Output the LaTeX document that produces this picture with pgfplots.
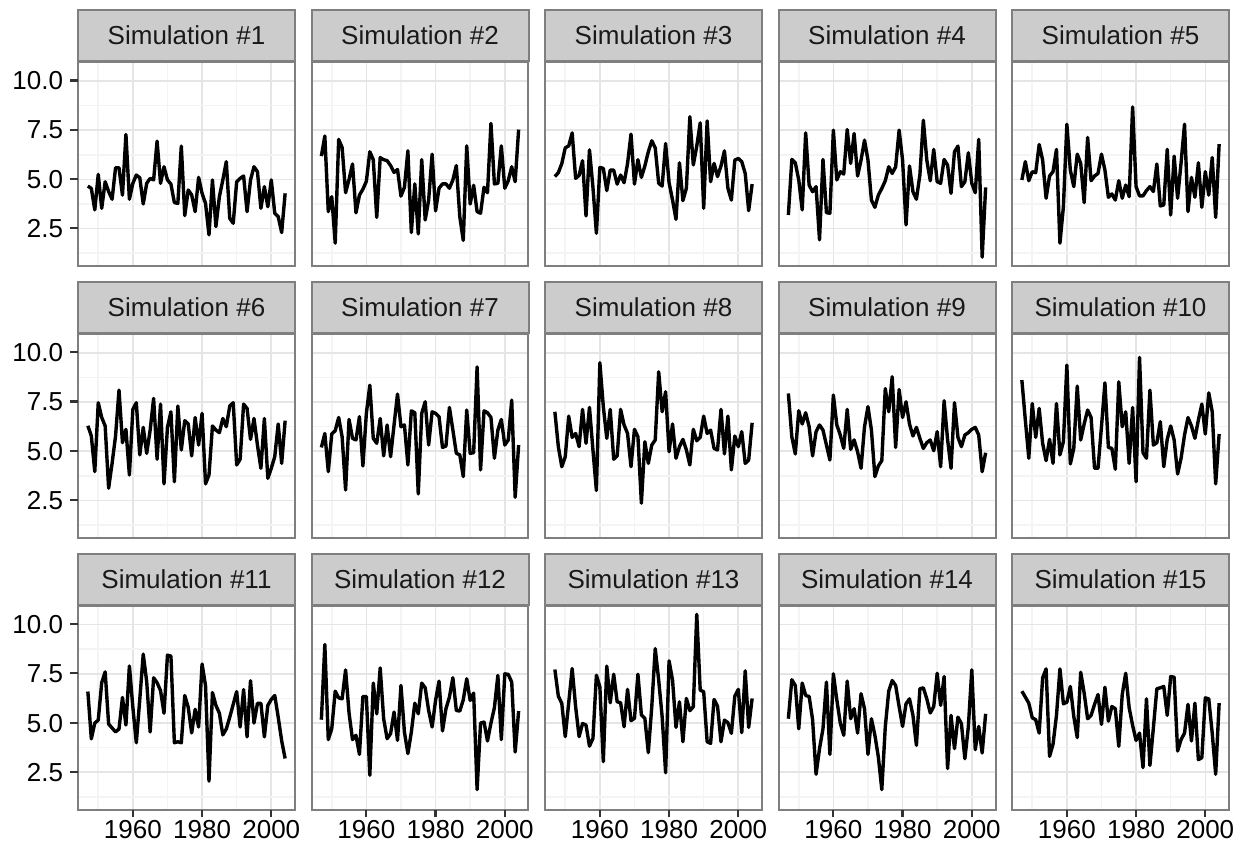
\documentclass[border=0pt]{standalone}
\usepackage{fontspec}
\setmainfont{Liberation Sans}
\usepackage{pgfplots}
\pgfplotsset{compat=1.18}
\usepackage{pgfplotstable}
\definecolor{stripfill}{HTML}{CCCCCC}
\definecolor{panelborder}{HTML}{7F7F7F}
\definecolor{majgrid}{HTML}{E5E5E5}
\definecolor{mingrid}{HTML}{F4F4F4}
\definecolor{tickcol}{HTML}{333333}
\protected\def\ylab#1{#1\hspace{3.3bp}\textcolor{tickcol}{\rule[4.1bp]{4bp}{1.1bp}}}
\protected\def\xlab#1{\vbox{\offinterlineskip\halign{\hss##\hss\cr\textcolor{tickcol}{\rule{1.1bp}{3.6bp}}\cr\noalign{\kern1.4bp}#1\cr}}}

\pgfplotstableread{
year s1 s2 s3 s4 s5 s6 s7 s8 s9 s10 s11 s12 s13 s14 s15
1947 4.66 6.18 5.14 3.19 4.97 6.29 5.19 7.0 7.93 8.61 6.6 5.17 7.72 5.22 6.62
1948 4.54 7.2 5.34 6.01 5.9 5.77 5.9 5.23 5.73 6.58 4.2 8.99 6.37 7.2 6.32
1949 3.45 3.36 5.8 5.84 4.93 3.96 3.96 4.21 4.86 4.64 5.0 4.16 6.0 6.91 6.01
1950 5.25 4.12 6.6 4.97 5.39 7.46 5.87 4.72 7.05 7.42 5.15 4.71 4.31 4.71 5.27
1951 3.53 1.76 6.7 3.45 5.34 6.71 6.04 6.78 6.38 5.7 7.05 6.62 6.03 7.03 5.17
1952 4.88 7.03 7.36 7.36 6.77 6.28 6.71 5.7 6.95 7.17 7.6 6.28 7.77 6.4 4.49
1953 4.38 6.62 5.05 4.71 5.98 3.12 5.73 5.9 6.24 5.4 4.95 6.23 5.83 6.35 7.3
1954 3.99 4.32 5.2 4.37 4.04 4.38 3.03 5.23 4.76 4.52 4.75 7.7 4.31 5.17 7.75
1955 5.59 5.0 5.95 4.63 5.17 5.77 6.61 7.12 5.99 5.6 4.55 5.51 4.98 2.4 3.31
1956 5.59 5.78 3.14 1.93 5.39 8.1 5.65 5.4 6.33 4.38 4.7 4.16 4.9 3.7 3.92
1957 4.2 3.3 6.5 6.01 6.52 5.43 5.57 7.22 6.07 7.42 6.3 4.38 3.83 4.71 5.39
1958 7.28 4.2 4.6 3.31 1.76 6.11 6.75 5.06 5.31 4.81 4.9 3.41 4.22 7.08 7.75
1959 3.99 4.5 2.26 3.28 3.61 3.79 4.25 3.0 4.55 5.48 7.9 6.35 7.43 3.41 5.98
1960 4.8 4.9 5.6 7.5 7.8 7.12 6.92 9.49 7.85 9.37 5.8 6.35 6.84 7.5 6.06
1961 5.22 6.4 5.56 4.97 5.47 7.46 8.35 7.26 6.33 4.35 4.0 2.35 3.04 6.18 6.86
1962 5.08 6.0 4.43 5.39 4.63 4.81 5.65 5.65 5.82 5.14 6.2 7.03 7.89 5.0 5.34
1963 3.75 3.07 5.47 5.27 6.28 6.21 5.4 7.12 5.14 8.3 8.5 5.47 6.03 4.38 4.26
1964 4.8 6.1 5.47 7.53 5.81 4.89 6.66 4.59 7.12 5.57 7.1 7.8 7.48 7.13 7.58
1965 5.05 6.0 4.76 5.81 3.82 6.07 4.76 4.76 5.09 6.38 4.55 5.22 6.08 5.22 6.52
1966 4.97 5.95 5.22 7.33 7.13 7.68 6.33 7.12 5.57 7.09 7.3 4.21 6.03 5.73 5.22
1967 6.94 5.7 4.83 5.17 4.93 4.59 4.72 6.33 4.97 6.71 7.05 4.46 4.81 4.49 5.39
1968 4.8 5.35 5.8 5.98 5.17 7.39 6.33 5.9 4.13 4.13 6.65 5.56 6.71 6.49 5.95
1969 5.64 5.5 7.3 6.99 5.3 3.34 7.9 4.21 6.24 4.13 5.5 4.12 5.12 5.73 6.45
1970 4.97 4.15 4.76 5.98 6.28 6.21 6.24 6.11 7.26 6.24 8.45 6.91 5.24 3.41 4.93
1971 4.76 4.6 6.0 3.95 5.47 7.0 6.33 5.73 6.07 8.47 8.4 4.54 7.48 5.22 6.82
1972 3.82 6.45 5.1 3.58 4.09 3.45 4.3 2.36 3.71 5.19 4.0 3.45 5.41 4.38 5.1
1973 3.78 2.3 5.68 4.2 4.26 7.29 7.05 5.48 4.25 5.14 4.05 4.54 5.24 3.28 5.84
1974 6.69 4.77 6.4 4.54 3.95 5.06 6.95 4.38 4.52 4.08 4.0 6.01 3.5 1.62 5.73
1975 3.16 2.23 6.96 4.93 4.93 6.55 2.83 5.31 8.18 8.52 6.4 5.47 5.83 4.8 3.82
1976 4.46 6.0 6.6 5.64 4.04 6.38 6.92 5.57 7.0 6.24 5.8 7.03 8.78 6.62 6.45
1977 4.21 2.94 4.8 5.3 4.71 4.76 7.51 9.03 8.78 7.0 4.5 6.79 7.18 7.16 7.53
1978 3.36 3.95 4.66 5.64 4.12 6.71 5.31 7.0 5.19 4.38 5.7 5.64 5.32 6.91 5.78
1979 5.1 6.28 6.82 7.5 8.68 5.31 7.0 8.02 8.13 7.22 4.8 4.8 2.48 5.84 4.88
1980 4.29 3.4 4.83 5.98 4.63 6.92 6.92 4.97 6.71 3.45 8.0 6.15 8.16 4.83 4.12
1981 3.78 4.55 3.95 2.69 4.16 3.34 6.75 6.38 7.51 9.76 6.9 7.13 7.18 5.98 4.49
1982 2.18 4.77 2.97 5.68 4.16 3.79 5.19 4.64 6.38 4.92 2.05 4.6 4.78 6.23 2.74
1983 4.97 4.77 5.84 4.37 4.43 6.28 5.26 5.23 5.77 4.64 6.55 5.73 6.08 5.39 6.23
1984 2.6 4.55 3.92 3.99 4.63 6.07 7.22 5.6 6.21 8.1 5.9 6.32 4.05 3.87 2.85
1985 4.12 4.97 4.55 5.22 4.38 5.94 6.07 5.06 5.65 5.31 5.5 7.3 6.25 6.74 4.76
1986 4.97 5.7 8.18 8.0 5.78 6.66 4.89 4.3 5.14 5.43 4.4 5.64 5.63 6.79 6.74
1987 5.9 3.1 5.73 5.98 3.65 6.24 4.81 6.11 5.43 6.5 4.7 5.61 5.83 6.23 6.79
1988 3.02 1.9 6.69 4.93 3.7 7.29 3.71 5.53 5.57 4.21 5.3 6.18 10.52 5.51 6.86
1989 2.77 6.7 7.87 6.52 6.52 7.46 7.09 5.7 5.02 5.6 5.95 7.25 6.67 5.84 5.39
1990 4.88 3.75 3.53 4.88 3.19 4.3 4.89 6.78 5.99 6.28 6.6 6.15 6.59 7.53 7.36
1991 5.05 4.7 7.97 4.8 6.18 4.59 4.92 5.9 4.21 5.57 4.8 6.52 4.05 5.9 7.33
1992 5.17 3.36 4.88 6.01 4.04 7.39 9.28 6.07 7.56 3.84 6.7 1.62 3.97 7.36 3.58
1993 3.36 3.28 5.81 5.73 5.84 7.17 4.05 5.14 5.6 4.64 4.3 5.0 6.2 2.69 4.16
1994 4.97 4.6 5.14 4.29 7.8 5.6 7.05 5.06 4.13 5.82 7.15 5.05 5.86 5.39 4.49
1995 5.64 4.32 5.68 6.4 3.36 6.66 6.95 7.12 7.46 6.71 5.0 4.09 4.05 3.7 5.95
1996 5.39 7.84 6.45 6.69 5.1 5.31 6.71 4.86 5.7 6.28 6.0 5.0 5.15 5.3 4.09
1997 3.53 4.77 4.55 4.63 4.09 4.13 4.64 6.78 5.23 5.65 6.0 5.78 5.02 4.97 6.01
1998 4.63 4.8 3.95 4.88 5.84 6.66 6.07 4.05 5.82 6.58 4.3 7.42 4.48 3.19 3.14
1999 3.61 6.7 5.98 6.35 3.58 3.62 6.61 5.77 5.94 7.39 5.9 4.16 6.37 4.8 3.24
2000 4.97 4.55 6.06 4.8 5.39 4.13 5.31 5.23 6.11 5.87 6.2 7.5 6.71 7.7 6.28
2001 3.28 4.93 5.9 4.32 4.2 4.72 5.57 5.99 6.21 7.96 6.4 7.47 4.51 3.65 6.23
2002 3.11 5.64 5.3 7.03 6.11 6.38 7.59 4.38 5.82 7.0 5.3 7.08 7.65 4.83 4.49
2003 2.3 4.88 3.41 1.05 3.07 4.38 2.66 4.55 3.96 3.34 4.1 3.53 4.78 3.48 2.4
2004 4.29 7.53 4.76 4.59 6.79 6.55 5.31 6.44 4.92 5.87 3.2 5.61 6.25 5.47 6.01
}\simdata

\pgfplotsset{
  facet/.style={
    scale only axis, width=108.5bp, height=102bp, anchor=north west,
    xmin=1944.15, xmax=2006.85, ymin=0.6, ymax=10.96,
    xtick={1960,1980,2000}, ytick={2.5,5,7.5,10},
    minor xtick={1950,1970,1990}, minor ytick={1.25,3.75,6.25,8.75},
    xmajorgrids=true, ymajorgrids=true, xminorgrids=true, yminorgrids=true,
    major grid style={draw=majgrid, line width=0.8bp},
    minor grid style={draw=mingrid, line width=0.8bp},
    axis line style={draw=panelborder, line width=1bp},
    tick align=outside, xtick pos=left, ytick pos=left,
    major tick length=0pt, minor tick length=0pt,
    xticklabels={}, yticklabels={},
    /pgf/number format/assume math mode=true,
    tick label style={font=\fontsize{13bp}{15bp}\selectfont, text=black},
    title style={at={(0.5,1)}, anchor=south, yshift=-6pt, fill=stripfill, draw=panelborder,
      line width=1bp, minimum width=108.5bp, minimum height=25.5bp,
      inner sep=0pt, text=black!90, font=\fontsize{13bp}{15bp}\selectfont},
  },
  leftcol/.style={yticklabels={\ylab{2.5},\ylab{5.0},\ylab{7.5},\ylab{10.0}},
    yticklabel style={anchor=east, inner sep=0pt}},
  bottomrow/.style={xticklabels={\xlab{1960},\xlab{1980},\xlab{2000}},
    xticklabel style={anchor=north, inner sep=0pt}},
}

\newcommand{\facet}[4]{%
  \begin{axis}[facet, at={(#1,#2)}, title={Simulation \##3}, #4]
    \addplot[black, line width=1.7bp, line join=round, no markers] table[x=year, y=s#3] {\simdata};
  \end{axis}%
}

\begin{document}
\begin{tikzpicture}
\path[use as bounding box] (0,0) rectangle (619.5bp,-423bp);
\facet{39bp}{-31bp}{1}{leftcol}
\facet{155.75bp}{-31bp}{2}{}
\facet{272.5bp}{-31bp}{3}{}
\facet{389.25bp}{-31bp}{4}{}
\facet{506bp}{-31bp}{5}{}
\facet{39bp}{-166.9bp}{6}{leftcol}
\facet{155.75bp}{-166.9bp}{7}{}
\facet{272.5bp}{-166.9bp}{8}{}
\facet{389.25bp}{-166.9bp}{9}{}
\facet{506bp}{-166.9bp}{10}{}
\facet{39bp}{-302.85bp}{11}{leftcol,bottomrow}
\facet{155.75bp}{-302.85bp}{12}{bottomrow}
\facet{272.5bp}{-302.85bp}{13}{bottomrow}
\facet{389.25bp}{-302.85bp}{14}{bottomrow}
\facet{506bp}{-302.85bp}{15}{bottomrow}
\end{tikzpicture}
\end{document}
